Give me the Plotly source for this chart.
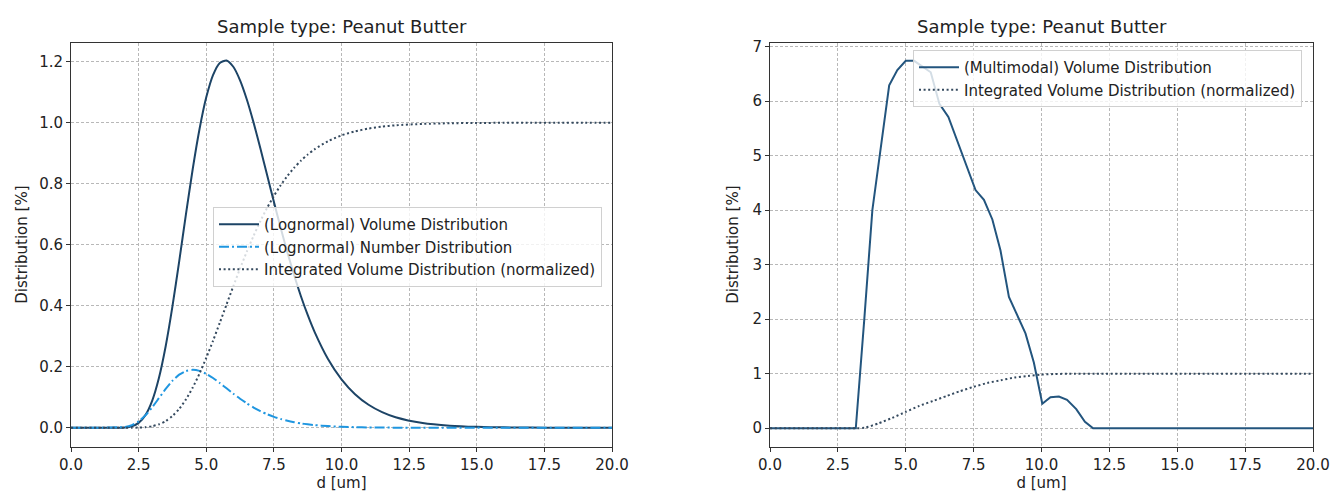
import plotly.graph_objects as go

# ---------------- data: left panel (lognormal) ----------------
d_lognormal = [0, 1, 2, 2.25, 2.5, 2.75, 3, 3.25, 3.5, 3.75, 4, 4.25, 4.5, 4.75, 5, 5.25,
               5.5, 5.75, 6, 6.25, 6.5, 6.75, 7, 7.25, 7.5, 7.75, 8, 8.25, 8.5, 8.75, 9,
               9.5, 10, 10.5, 11, 11.5, 12, 13, 14, 15, 16, 17, 18, 19, 20]
volume_lognormal = [0, 0, 0.0011, 0.0050, 0.0161, 0.0414, 0.0884, 0.1631, 0.2673, 0.3978,
                    0.5458, 0.7001, 0.8483, 0.9787, 1.0832, 1.1562, 1.1961, 1.2042, 1.1836,
                    1.1392, 1.0763, 1.0004, 0.9164, 0.8287, 0.7408, 0.6555, 0.5748, 0.4998,
                    0.4313, 0.3698, 0.3153, 0.2255, 0.1586, 0.1100, 0.0754, 0.0513, 0.0346,
                    0.0155, 0.0069, 0.0030, 0.0013, 0.0006, 0.0003, 0.0001, 0.0001]
number_lognormal = [0, 0, 0.0029, 0.0089, 0.0211, 0.0406, 0.0668, 0.0970, 0.1272, 0.1540,
                    0.1741, 0.1861, 0.1900, 0.1864, 0.1769, 0.1631, 0.1467, 0.1293, 0.1118,
                    0.0952, 0.0800, 0.0664, 0.0545, 0.0444, 0.0358, 0.0287, 0.0229, 0.0182,
                    0.0143, 0.0113, 0.0088, 0.0054, 0.0032, 0.0019, 0.0012, 0.0007, 0.0004,
                    0.0001, 0, 0, 0, 0, 0, 0, 0]
integrated_lognormal = [0, 0, 0.0000, 0.0002, 0.0007, 0.0020, 0.0051, 0.0113, 0.0219, 0.0384,
                        0.0620, 0.0931, 0.1318, 0.1775, 0.2291, 0.2852, 0.3441, 0.4042, 0.4640,
                        0.5221, 0.5775, 0.6293, 0.6772, 0.7209, 0.7600, 0.7949, 0.8256, 0.8524,
                        0.8757, 0.8956, 0.9127, 0.9395, 0.9585, 0.9718, 0.9810, 0.9872, 0.9915,
                        0.9962, 0.9983, 0.9993, 0.9997, 0.9999, 1.0, 1.0, 1.0]

# ---------------- data: right panel (multimodal) ----------------
d_multimodal = [0, 3.16, 3.47, 3.77, 4.39, 4.69, 5.0, 5.31, 5.92, 6.24, 6.57, 7.57, 7.88,
                8.19, 8.49, 8.80, 9.41, 9.72, 10.03, 10.33, 10.64, 10.94, 11.28, 11.6, 11.9, 20]
volume_multimodal = [0, 0, 1.98, 4.0, 6.29, 6.57, 6.74, 6.74, 6.53, 5.95, 5.71, 4.37, 4.19,
                     3.83, 3.26, 2.41, 1.74, 1.2, 0.45, 0.57, 0.58, 0.52, 0.35, 0.12, 0, 0]
d_integrated = [0, 3.16, 3.5, 4.0, 4.5, 5.0, 5.5, 6.0, 6.5, 7.0, 7.5, 8.0, 8.5, 9.0, 9.5,
                10.0, 10.5, 11.0, 12.0, 20.0]
integrated_multimodal = [0, 0, 0.01, 0.09, 0.19, 0.30, 0.41, 0.50, 0.59, 0.68, 0.76, 0.83,
                         0.88, 0.93, 0.96, 0.985, 0.995, 1.0, 1.0, 1.0]

x_ticks = [0, 2.5, 5, 7.5, 10, 12.5, 15, 17.5, 20]
left_y_ticks = [0, 0.2, 0.4, 0.6, 0.8, 1.0, 1.2]
right_y_ticks = [0, 1, 2, 3, 4, 5, 6, 7]
title_text = "Sample type: Peanut Butter"

# ---------------- styles ----------------
FONT = "DejaVu Sans"
FS = 15
C_VOL = "#1d4466"
C_VOL_R = "#23557e"
C_NUM = "#1f96e0"
C_INT = "#34495e"
GRID = "#b8b8b8"
W, H = 1331, 492

fig = go.Figure()
fig.add_trace(go.Scatter(x=d_lognormal, y=volume_lognormal, mode="lines",
                         name="(Lognormal) Volume Distribution",
                         line=dict(color=C_VOL, width=2, shape="spline", smoothing=0.6),
                         xaxis="x", yaxis="y", legend="legend"))
fig.add_trace(go.Scatter(x=d_lognormal, y=number_lognormal, mode="lines",
                         name="(Lognormal) Number Distribution",
                         line=dict(color=C_NUM, width=2, dash="10px,3px,2px,3px",
                                   shape="spline", smoothing=0.6),
                         xaxis="x", yaxis="y", legend="legend"))
fig.add_trace(go.Scatter(x=d_lognormal, y=integrated_lognormal, mode="lines",
                         name="Integrated Volume Distribution (normalized)",
                         line=dict(color=C_INT, width=2, dash="2px,2.6px",
                                   shape="spline", smoothing=0.6),
                         xaxis="x", yaxis="y", legend="legend"))

fig.add_trace(go.Scatter(x=d_multimodal, y=volume_multimodal, mode="lines",
                         name="(Multimodal) Volume Distribution",
                         line=dict(color=C_VOL_R, width=2),
                         xaxis="x2", yaxis="y2", legend="legend2"))
fig.add_trace(go.Scatter(x=d_integrated, y=integrated_multimodal, mode="lines",
                         name="Integrated Volume Distribution (normalized)",
                         line=dict(color=C_INT, width=2, dash="2px,2.6px",
                                   shape="spline", smoothing=0.6),
                         xaxis="x2", yaxis="y2", legend="legend2"))

ydom = [1 - 446.5 / H, 1 - 42.7 / H]
common_axis = dict(showline=True, linecolor="#333333", linewidth=1, mirror=True,
                   ticks="outside", ticklen=4, tickwidth=1, tickcolor="#333333",
                   showgrid=True, gridcolor=GRID, gridwidth=1, griddash="3px,2px",
                   zeroline=False, automargin=False,
                   tickfont=dict(family=FONT, size=FS, color="#222222"),
                   title_font=dict(family=FONT, size=FS, color="#222222"))

fig.update_layout(
    width=W, height=H,
    margin=dict(l=0, r=0, t=0, b=0),
    paper_bgcolor="white", plot_bgcolor="white",
    font=dict(family=FONT, size=FS, color="#222222"),
    xaxis=dict(domain=[71 / W, 612 / W], range=[0, 20], anchor="y",
               tickvals=x_ticks, tickformat=".1f",
               title=dict(text="d [um]", standoff=4), **common_axis),
    yaxis=dict(domain=ydom, range=[-0.0614, 1.2624], anchor="x",
               tickvals=left_y_ticks, tickformat=".1f",
               title=dict(text="Distribution [%]", standoff=7), **common_axis),
    xaxis2=dict(domain=[770 / W, 1313 / W], range=[0, 20], anchor="y2",
                tickvals=x_ticks, tickformat=".1f",
                title=dict(text="d [um]", standoff=4), **common_axis),
    yaxis2=dict(domain=ydom, range=[-0.335, 7.073], anchor="x2",
                tickvals=right_y_ticks, tickformat="d",
                title=dict(text="Distribution [%]", standoff=10), **common_axis),
    legend=dict(x=213 / W, y=1 - 207 / H, xanchor="left", yanchor="top",
                bgcolor="rgba(255,255,255,0.8)", bordercolor="#d0d0d0", borderwidth=1,
                font=dict(family=FONT, size=FS, color="#222222"), itemwidth=40,
                tracegroupgap=0),
    legend2=dict(x=913 / W, y=1 - 50 / H, xanchor="left", yanchor="top",
                 bgcolor="rgba(255,255,255,0.8)", bordercolor="#d0d0d0", borderwidth=1,
                 font=dict(family=FONT, size=FS, color="#222222"), itemwidth=40,
                 tracegroupgap=0),
    showlegend=True,
    annotations=[
        dict(text=title_text, x=(71 + 612) / 2 / W, y=1 - 26 / H, xref="paper", yref="paper",
             xanchor="center", yanchor="middle", showarrow=False,
             font=dict(family=FONT, size=18, color="#222222")),
        dict(text=title_text, x=(770 + 1313) / 2 / W, y=1 - 26 / H, xref="paper", yref="paper",
             xanchor="center", yanchor="middle", showarrow=False,
             font=dict(family=FONT, size=18, color="#222222")),
    ],
)

fig.write_html("out.html")
